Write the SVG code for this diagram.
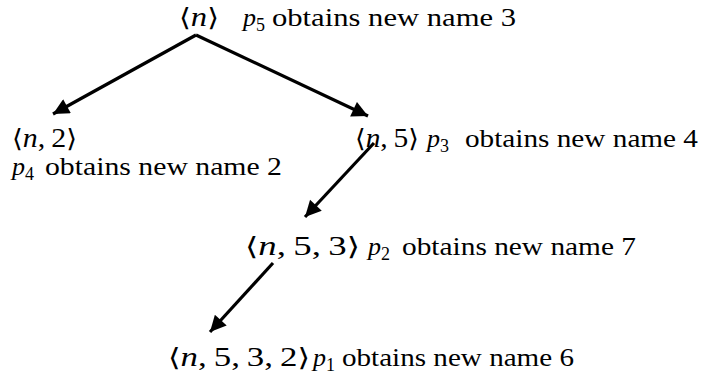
<svg xmlns="http://www.w3.org/2000/svg" width="703" height="375" viewBox="0 0 703 375">
<style>
.t{font-family:'Liberation Serif','Times New Roman',serif;font-size:26px;fill:#000}
.m{font-size:27px}
.i{font-style:italic}
.s{font-size:18px}
.b{font-family:'DejaVu Serif',serif;font-size:25px}
.e{stroke:#000;stroke-width:3.2;fill:none;marker-end:url(#ah)}
</style>
<defs>
<marker id="ah" viewBox="0 0 10 10" refX="10" refY="5" markerWidth="5.5" markerHeight="5" orient="auto" markerUnits="strokeWidth">
<path d="M0,0L10,5L0,10z" fill="#000"/>
</marker>
</defs>
<rect width="703" height="375" fill="#fff"/>
<g id="connectors">
<line class="e" x1="196" y1="35" x2="53" y2="114"/>
<line class="e" x1="196" y1="35" x2="368" y2="116"/>
<line class="e" x1="374" y1="143" x2="305" y2="217"/>
<line class="e" x1="273" y1="263" x2="210" y2="332"/>
</g>
<g id="n0" class="t">
<text x="179" y="26" class="m" textLength="40" lengthAdjust="spacingAndGlyphs"><tspan class="b">⟨</tspan><tspan class="i">n</tspan><tspan class="b">⟩</tspan></text>
<text x="243" y="26"><tspan class="i">p</tspan><tspan class="s" dy="5">5</tspan></text>
<text x="272" y="26" textLength="244" lengthAdjust="spacingAndGlyphs">obtains new name 3</text>
</g>
<g id="n1" class="t">
<text x="12" y="147" class="m" textLength="65" lengthAdjust="spacingAndGlyphs"><tspan class="b">⟨</tspan><tspan class="i">n</tspan>,&#8201;2<tspan class="b">⟩</tspan></text>
<text x="12" y="175"><tspan class="i">p</tspan><tspan class="s" dy="5">4</tspan></text>
<text x="45" y="175" textLength="237" lengthAdjust="spacingAndGlyphs">obtains new name 2</text>
</g>
<g id="n2" class="t">
<text x="355" y="147" class="m" textLength="64" lengthAdjust="spacingAndGlyphs"><tspan class="b">⟨</tspan><tspan class="i">n</tspan>,&#8201;5<tspan class="b">⟩</tspan></text>
<text x="427" y="147"><tspan class="i">p</tspan><tspan class="s" dy="5">3</tspan></text>
<text x="465" y="147" textLength="233" lengthAdjust="spacingAndGlyphs">obtains new name 4</text>
</g>
<g id="n3" class="t">
<text x="245" y="255" class="m" textLength="115" lengthAdjust="spacingAndGlyphs"><tspan class="b">⟨</tspan><tspan class="i">n</tspan>,&#8201;5,&#8201;3<tspan class="b">⟩</tspan></text>
<text x="368" y="255"><tspan class="i">p</tspan><tspan class="s" dy="5">2</tspan></text>
<text x="402" y="255" textLength="234" lengthAdjust="spacingAndGlyphs">obtains new name 7</text>
</g>
<g id="n4" class="t">
<text x="168" y="366" class="m" textLength="142" lengthAdjust="spacingAndGlyphs"><tspan class="b">⟨</tspan><tspan class="i">n</tspan>,&#8201;5,&#8201;3,&#8201;2<tspan class="b">⟩</tspan></text>
<text x="313" y="366"><tspan class="i">p</tspan><tspan class="s" dy="5">1</tspan></text>
<text x="342" y="366" textLength="232" lengthAdjust="spacingAndGlyphs">obtains new name 6</text>
</g>
</svg>
